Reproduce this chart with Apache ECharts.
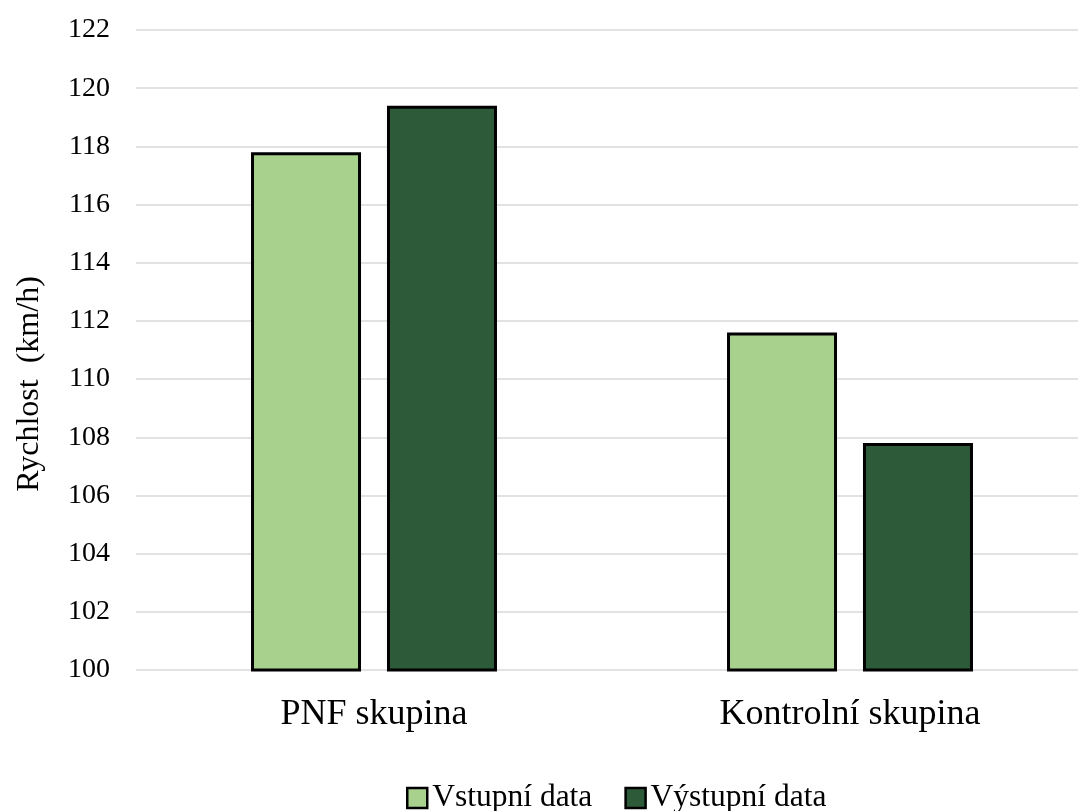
<!DOCTYPE html>
<html>
<head>
<meta charset="utf-8">
<script src="https://cdn.jsdelivr.net/npm/echarts@6/dist/echarts.min.js"></script>
<style>
  html, body { margin: 0; padding: 0; background: #fff; overflow: hidden; }
  /* the original plot runs a little past the right edge of the picture */
  #chart { width: 1088px; height: 811px; }
</style>
</head>
<body>
<div id="chart"></div>
<script>
const categories = ['PNF skupina', 'Kontrolní skupina'];
const inputData = [117.8, 111.6];
const outputData = [119.4, 107.8];
const seriesNames = ['Vstupní data', 'Výstupní data'];
const yTicks = { min: 100, max: 122, interval: 2 };

const font = 'Liberation Serif, Times New Roman, serif';
const chart = echarts.init(document.getElementById('chart'));

const barStyle = (color) => ({
  color: color,
  borderColor: '#000',
  borderWidth: 3,
});

chart.setOption({
  animation: false,
  textStyle: { fontFamily: font, color: '#000' },
  grid: {
    left: 136,
    right: 0,
    top: 30,
    bottom: 141,
    containLabel: false,
  },
  legend: {
    left: 401,
    top: 777,
    itemWidth: 20,
    itemHeight: 20,
    itemGap: 32,
    icon: 'rect',
    itemStyle: { borderColor: '#000', borderWidth: 2.5 },
    textStyle: { fontFamily: font, fontSize: 31.5, color: '#000' },
    data: seriesNames,
  },
  xAxis: {
    type: 'category',
    data: categories,
    axisLine: { show: false },
    axisTick: { show: false },
    axisLabel: { fontFamily: font, fontSize: 36, color: '#000', margin: 27 },
  },
  yAxis: {
    type: 'value',
    min: yTicks.min,
    max: yTicks.max,
    interval: yTicks.interval,
    name: 'Rychlost  (km/h)',
    nameLocation: 'middle',
    nameGap: 90,
    nameTextStyle: {
      fontFamily: font,
      fontSize: 32,
      color: '#000',
      padding: [0, 68, 0, 0],
    },
    axisLine: { show: false },
    axisTick: { show: false },
    axisLabel: { fontFamily: font, fontSize: 28, color: '#000', margin: 26 },
    splitLine: { lineStyle: { color: '#d9d9d9', width: 1.5 } },
  },
  series: [
    {
      name: seriesNames[0],
      type: 'bar',
      data: inputData,
      barWidth: 110,
      barGap: '23.6%',
      itemStyle: barStyle('#a9d18e'),
    },
    {
      name: seriesNames[1],
      type: 'bar',
      data: outputData,
      barWidth: 110,
      barGap: '23.6%',
      itemStyle: barStyle('#2d5b3a'),
    },
  ],
});
</script>
</body>
</html>
